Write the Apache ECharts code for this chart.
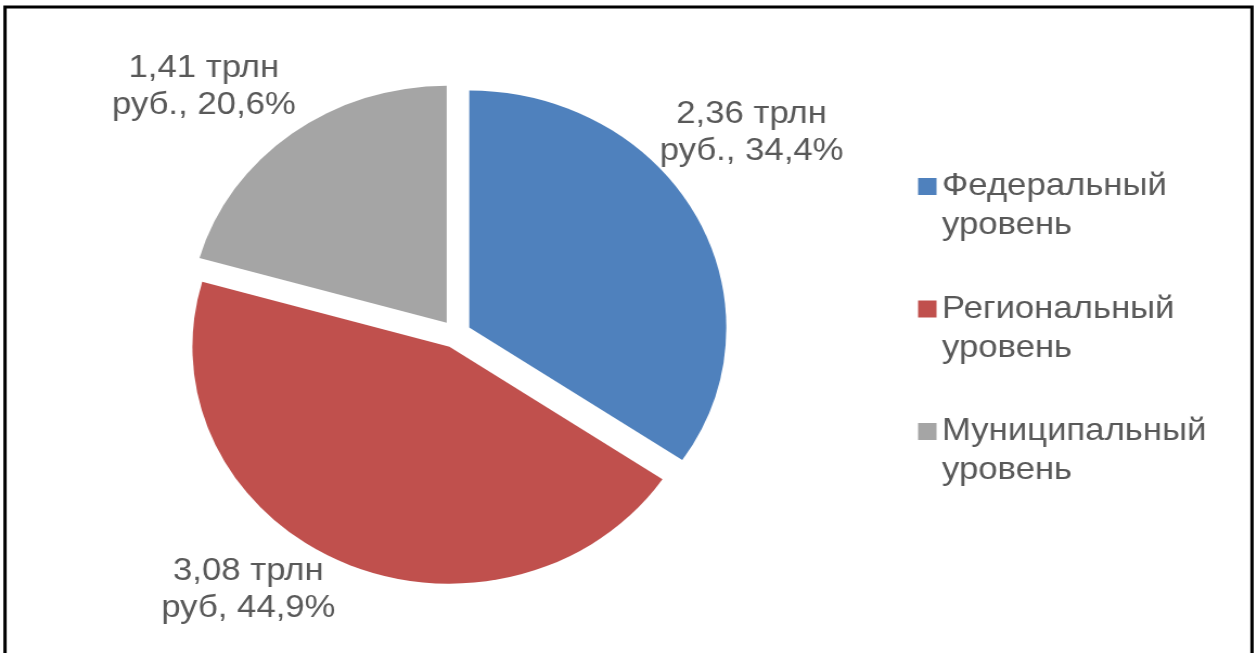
<!DOCTYPE html>
<html>
<head>
<meta charset="utf-8">
<script src="https://cdn.jsdelivr.net/npm/echarts@6/dist/echarts.min.js"></script>
<style>
  html, body { margin: 0; padding: 0; background: #ffffff; overflow: hidden; }
  #wrap { width: 1257px; height: 653px; position: relative; overflow: hidden; }
  #chart { position: absolute; left: 0; top: 0; width: 1159px; height: 653px;
           transform: scaleX(1.08455); transform-origin: 0 0; }
</style>
</head>
<body>
<div id="wrap"><div id="chart"></div></div>
<script>
// ---- data ----
const categories = ['Федеральный уровень', 'Региональный уровень', 'Муниципальный уровень'];
const legendNames = ['Федеральный\nуровень', 'Региональный\nуровень', 'Муниципальный\nуровень'];
const valuesTrln = [2.36, 3.08, 1.41];
const sharePct = [34.4, 44.9, 20.6];
const unitLabels = ['руб.', 'руб', 'руб.'];
const colors = ['#4F81BD', '#C0504D', '#A5A5A5'];

// data-label anchor positions (chart space, layout only)
const labelPos = [[693, 133], [229, 590], [188, 87]];

const fmt = (v, d) => v.toFixed(d).replace('.', ',');
const labelText = i => fmt(valuesTrln[i], 2) + ' трлн\n' + unitLabels[i] + ', ' + fmt(sharePct[i], 1) + '%';

const chart = echarts.init(document.getElementById('chart'), null, { renderer: 'canvas' });
const FONT = "'Liberation Sans', Arial, sans-serif";
const TXT = '#595959';

const graphics = [{
  type: 'polyline',
  shape: { points: [[4.6, 660], [4.6, 7], [1154.4, 7], [1154.4, 660]] },
  style: { stroke: '#000000', lineWidth: 3, fill: null },
  silent: true
}];
valuesTrln.forEach((v, i) => {
  graphics.push({
    type: 'text',
    x: labelPos[i][0],
    y: labelPos[i][1],
    silent: true,
    style: {
      text: labelText(i),
      fill: TXT,
      fontFamily: FONT,
      fontSize: 32,
      lineHeight: 37,
      align: 'center',
      verticalAlign: 'middle'
    }
  });
});

chart.setOption({
  animation: false,
  backgroundColor: '#ffffff',
  textStyle: { fontFamily: FONT },
  graphic: graphics,
  legend: {
    orient: 'vertical',
    left: 841.5,
    top: 123,
    itemWidth: 17,
    itemHeight: 17,
    itemGap: 5.5,
    icon: 'rect',
    selectedMode: false,
    data: categories,
    formatter: function (name) { return '\n' + legendNames[categories.indexOf(name)]; },
    textStyle: {
      fontFamily: FONT,
      fontSize: 32,
      lineHeight: 39,
      color: TXT,
      padding: 0
    }
  },
  series: [{
    type: 'pie',
    center: [420.3, 334],
    radius: [0, 237],
    startAngle: 90,
    clockwise: true,
    selectedMode: 'multiple',
    selectedOffset: 14,
    avoidLabelOverlap: false,
    emphasis: { disabled: true },
    itemStyle: { borderWidth: 0 },
    label: { show: false },
    labelLine: { show: false },
    data: categories.map((c, i) => ({
      name: c,
      value: valuesTrln[i],
      selected: true,
      itemStyle: { color: colors[i] }
    }))
  }]
});
</script>
</body>
</html>
